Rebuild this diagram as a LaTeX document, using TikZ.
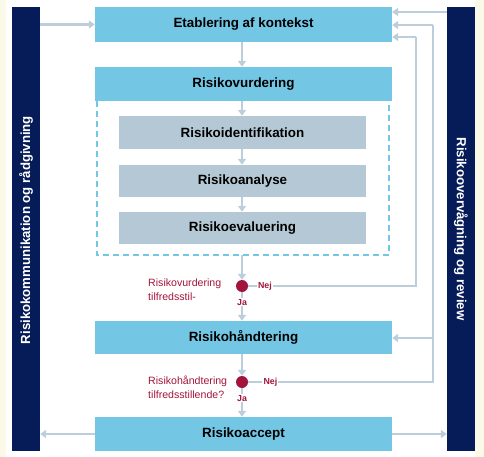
\documentclass[tikz,border=0pt]{standalone}
\usepackage{fontspec}
\setmainfont{Liberation Sans}
\usetikzlibrary{arrows.meta}
\definecolor{boxblue}{RGB}{115,199,228}
\definecolor{innergray}{RGB}{180,201,213}
\definecolor{navy}{RGB}{6,28,88}
\definecolor{arrowc}{RGB}{188,206,218}
\definecolor{darkred}{RGB}{162,20,60}
\definecolor{cream}{RGB}{251,249,232}
\tikzset{
  mainbox/.style={fill=boxblue, draw=none, minimum width=297pt, minimum height=35pt, inner sep=0pt,
    font=\fontsize{13.4}{15}\selectfont\bfseries, text=black},
  innerbox/.style={fill=innergray, draw=none, minimum width=247pt, minimum height=33pt, inner sep=0pt,
    font=\fontsize{13.4}{15}\selectfont\bfseries, text=black},
  sidebar/.style={fill=navy, draw=none, minimum width=28pt, minimum height=444pt, inner sep=0pt},
  sidetext/.style={text=white, font=\fontsize{13.2}{15}\selectfont\bfseries},
  arr/.style={draw=arrowc, line width=2.4pt, -{Triangle[length=6pt,width=8pt]}},
  ln/.style={draw=arrowc, line width=2.4pt},
  dec/.style={circle, fill=darkred, minimum size=12pt, inner sep=0pt},
  yn/.style={fill=white, text=darkred, font=\fontsize{8.8}{10}\selectfont\bfseries, inner sep=1.2pt},
  question/.style={text=darkred, font=\fontsize{10.6}{13.8}\selectfont, align=left, anchor=west, inner sep=0pt},
}
\begin{document}
\begin{tikzpicture}[x=1pt,y=-1pt]
\useasboundingbox (0,0) rectangle (484,457);
\fill[cream] (0,0) rectangle (6,457);
\fill[cream] (475,0) rectangle (484,457);

% side bars
\node[sidebar] (lbar) at (26,229) {};
\node[sidebar] (rbar) at (461,229) {};
\node[sidetext, rotate=90] (ltext) at (26,230) {Risikokommunikation og rådgivning};
\node[sidetext, rotate=-90] (rtext) at (461,229) {Risikoovervågning og review};

% dashed frame
\draw[boxblue, line width=2pt, dash pattern=on 6pt off 4pt] (97,101) -- (97,255) -- (389,255) -- (389,101);

% main boxes
\node[mainbox] (etab) at (243.5,24.5) {Etablering af kontekst};
\node[mainbox, minimum height=34pt] (vurd) at (243.5,84) {Risikovurdering};
\node[innerbox] (ident) at (242.5,132.5) {Risikoidentifikation};
\node[innerbox, minimum height=32pt] (anal) at (242.5,181) {Risikoanalyse};
\node[innerbox, minimum height=32pt] (eval) at (242.5,228) {Risikoevaluering};
\node[mainbox, minimum height=33pt] (hand) at (243.5,337.5) {Risikohåndtering};
\node[mainbox, minimum height=34pt] (accept) at (243.5,434) {Risikoaccept};

% decision points
\node[dec] (c1) at (242,286) {};
\node[dec] (c2) at (242,382) {};
\node[question] (q1) at (148,290) {Risikovurdering\\tilfredsstil-};
\node[question] (q2) at (148,387) {Risikohåndtering\\tilfredsstillende?};

% helper coordinates
\coordinate (dashb) at (242,255);
\coordinate (n1) at (416,286);
\coordinate (n1t) at (416,37);
\coordinate (n2) at (433,382);
\coordinate (n2t) at (433,25);
\coordinate (n2h) at (433,338);
\coordinate (rtop) at (447,12);
\coordinate (etabr12) at (392,12);

% vertical flow
\draw[arr] (etab.south -| 242,0) -- (vurd.north -| 242,0);
\draw[arr] (vurd.south -| 242,0) -- (ident.north -| 242,0);
\draw[arr] (ident.south -| 242,0) -- (anal.north -| 242,0);
\draw[arr] (anal.south -| 242,0) -- (eval.north -| 242,0);
\draw[arr] (dashb) -- (c1.north);
\draw[arr] (c1.south) -- node[yn, pos=0.35] (ja1) {Ja} (hand.north -| 242,0);
\draw[arr] (hand.south -| 242,0) -- (c2.north);
\draw[arr] (c2.south) -- node[yn, pos=0.35] (ja2) {Ja} (accept.north -| 242,0);

% Nej loops
\draw[ln] (c1.east) -- node[yn, pos=0.1] (nej1) {Nej} (n1) -- (n1t);
\draw[arr] (n1t) -- (etab.east |- n1t);
\draw[ln] (c2.east) -- node[yn, pos=0.12] (nej2) {Nej} (n2) -- (n2t);
\draw[arr] (n2t) -- (etab.east |- n2t);
\draw[arr] (n2h) -- (hand.east |- n2h);

% side connections
\draw[arr] (lbar.east |- etab.west) -- (etab.west);
\draw[arr] (rtop) -- (etabr12);
\draw[arr] (accept.west) -- (lbar.east |- accept.west);
\draw[arr] (accept.east) -- (rbar.west |- accept.east);
\end{tikzpicture}
\end{document}
